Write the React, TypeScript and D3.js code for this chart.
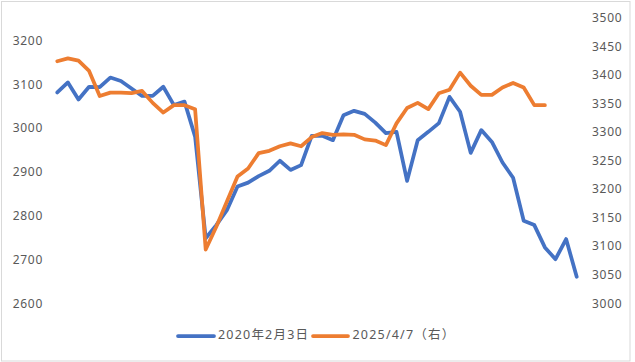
import React from "react";
import * as d3 from "d3";

// 2020年2月3日 (left axis)
const series2020: number[] = [
  3084, 3107, 3068, 3097, 3096, 3118, 3110, 3093, 3076, 3076,
  3097, 3055, 3063, 2983, 2751, 2781, 2815, 2869, 2878, 2893,
  2905, 2928, 2907, 2918, 2985, 2985, 2975, 3032, 3042, 3035,
  3015, 2991, 2994, 2882, 2975, 2994, 3014, 3074, 3040, 2946,
  2998, 2971, 2924, 2889, 2791, 2781, 2730, 2703, 2749, 2663,
];

// 2025/4/7（右） (right axis)
const series2025: number[] = [
  3426, 3431, 3427, 3409, 3365, 3371, 3371, 3370, 3374, 3353,
  3336, 3349, 3349, 3342, 3096, 3136, 3180, 3224, 3238, 3265,
  3269, 3277, 3282, 3277, 3293, 3300, 3297, 3298, 3297, 3289,
  3287, 3279, 3317, 3344, 3353, 3342, 3370, 3376, 3406, 3383,
  3367, 3367, 3380, 3388, 3380, 3349, 3349,
];

const leftTicks: number[] = [2600, 2700, 2800, 2900, 3000, 3100, 3200];
const rightTicks: number[] = [3000, 3050, 3100, 3150, 3200, 3250, 3300, 3350, 3400, 3450, 3500];
const legendLabels: string[] = ["2020年2月3日", "2025/4/7（右）"];

const W = 635;
const H = 362;
const BLUE = "#4472C4";
const ORANGE = "#ED7D31";
const TEXT = "#595959";
const FONT = "'Noto Sans', 'Noto Sans CJK SC', sans-serif";

export default function App() {
  const nPts = series2020.length;
  const x = d3.scaleLinear().domain([0, nPts - 1]).range([57.3, 576.7]);
  const yL = d3.scaleLinear().domain([2600, 3250]).range([304.3, 19.8]);
  const yR = d3.scaleLinear().domain([3000, 3500]).range([304.3, 19]);

  const lineL = d3
    .line<number>()
    .x((_, i) => x(i))
    .y((d) => yL(d));
  const lineR = d3
    .line<number>()
    .x((_, i) => x(i))
    .y((d) => yR(d));

  const legendY = 336;
  const legend = [
    { color: BLUE, x1: 178, x2: 214, tx: 218, label: legendLabels[0] },
    { color: ORANGE, x1: 313, x2: 348, tx: 352.5, label: legendLabels[1] },
  ];

  return (
    <svg
      width={W}
      height={H}
      style={{ position: "absolute", left: 0, top: 0, background: "#fff" }}
      fontFamily={FONT}
    >
      <rect x={0} y={0} width={W} height={H} fill="#fff" />
      <rect x={1.5} y={1.5} width={628.5} height={359.5} fill="none" stroke="#D9D9D9" strokeWidth={1} />

      {leftTicks.map((t) => (
        <text
          key={"l" + t}
          x={43}
          y={yL(t)}
          textAnchor="end"
          dominantBaseline="middle"
          fontSize={12}
          letterSpacing={0.7}
          fill={TEXT}
        >
          {t}
        </text>
      ))}
      {rightTicks.map((t) => (
        <text
          key={"r" + t}
          x={592}
          y={yR(t)}
          textAnchor="start"
          dominantBaseline="middle"
          fontSize={12}
          letterSpacing={0.7}
          fill={TEXT}
        >
          {t}
        </text>
      ))}

      <path
        d={lineL(series2020) || ""}
        fill="none"
        stroke={BLUE}
        strokeWidth={3.75}
        strokeLinejoin="round"
        strokeLinecap="round"
      />
      <path
        d={lineR(series2025) || ""}
        fill="none"
        stroke={ORANGE}
        strokeWidth={3.75}
        strokeLinejoin="round"
        strokeLinecap="round"
      />

      {legend.map((l) => (
        <g key={l.label}>
          <line x1={l.x1} x2={l.x2} y1={legendY} y2={legendY} stroke={l.color} strokeWidth={3.75} strokeLinecap="round" />
          <text
            x={l.tx}
            y={legendY}
            dominantBaseline="middle"
            fontSize={12.5}
            letterSpacing={1.2}
            fill={TEXT}
          >
            {l.label}
          </text>
        </g>
      ))}
    </svg>
  );
}
